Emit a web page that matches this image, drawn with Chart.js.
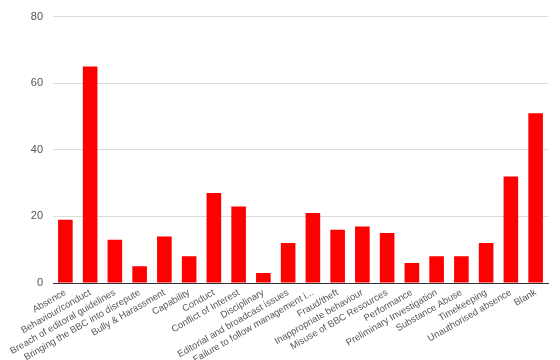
<!DOCTYPE html>
<html>
<head>
<meta charset="utf-8">
<script src="https://cdn.jsdelivr.net/npm/chart.js@4/dist/chart.umd.min.js"></script>
<style>
  html, body { margin: 0; padding: 0; background: #fff; }
  #wrap { width: 560px; height: 360px; }
</style>
</head>
<body>
<div id="wrap"><canvas id="caseChart"></canvas></div>
<script>
// Case types and counts
const categories = [
  'Absence', 'Behaviour/conduct', 'Breach of editoral guidelines', 'Bringing the BBC into disrepute',
  'Bully & Harassment', 'Capability', 'Conduct', 'Conflict of Interest', 'Disciplinary',
  'Editorial and broadcast issues', 'Failure to follow management i...', 'Fraud/theft',
  'Inappropriate behaviour', 'Misuse of BBC Resources', 'Performance', 'Preliminary Investigation',
  'Substance Abuse', 'Timekeeping', 'Unauthorised absence', 'Blank'
];
const caseCounts = [19, 65, 13, 5, 14, 8, 27, 23, 3, 12, 21, 16, 17, 15, 6, 8, 8, 12, 32, 51];
const yTicks = [0, 20, 40, 60, 80];

Chart.defaults.font.family = 'Arial, "Liberation Sans", sans-serif';

new Chart(document.getElementById('caseChart'), {
  type: 'bar',
  data: {
    labels: categories,
    datasets: [{
      data: caseCounts,
      backgroundColor: '#ff0000',
      borderWidth: 0,
      categoryPercentage: 1,
      barPercentage: 0.59
    }]
  },
  options: {
    responsive: true,
    maintainAspectRatio: false,
    animation: false,
    layout: { padding: { top: 10, right: 12, left: 0, bottom: 0 } },
    plugins: { legend: { display: false }, tooltip: { enabled: false } },
    scales: {
      x: {
        grid: { display: false, drawTicks: false },
        border: { color: '#333', width: 1 },
        ticks: {
          autoSkip: false,
          maxRotation: 30,
          minRotation: 30,
          padding: 4,
          color: '#555',
          font: { size: 9.5 }
        },
        afterFit: function(scale) { scale.height = 77; }
      },
      y: {
        min: 0,
        max: 80,
        afterBuildTicks: function(scale) {
          scale.ticks = yTicks.map(v => ({ value: v }));
        },
        grid: { color: '#dcdcdc', drawTicks: false },
        border: { display: false },
        ticks: { color: '#555', padding: 10, font: { size: 11 } },
        afterFit: function(scale) { scale.width = 53; }
      }
    }
  }
});
</script>
</body>
</html>
